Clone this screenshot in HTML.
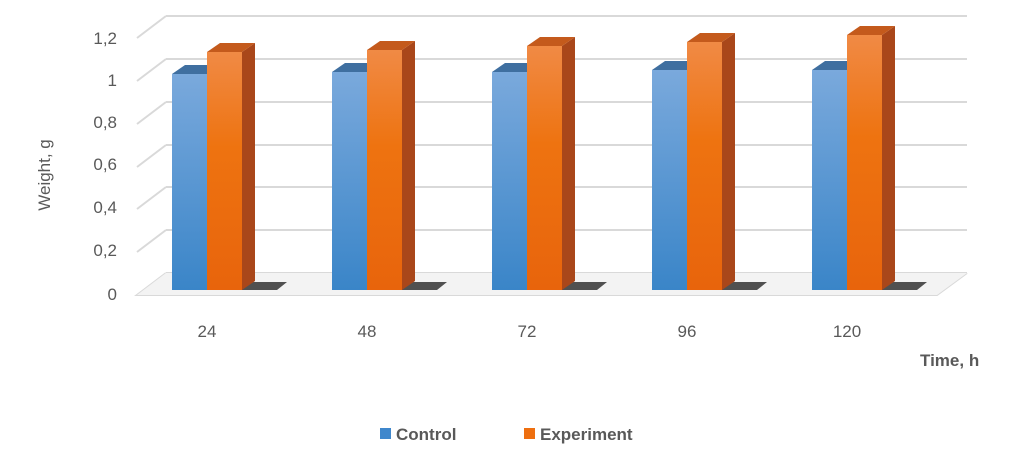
<!DOCTYPE html>
<html><head><meta charset="utf-8"><style>
body{margin:0;background:#fff}
svg{display:block;font-family:"Liberation Sans",sans-serif}
</style></head><body>
<svg width="1023" height="453" viewBox="0 0 1023 453">
<defs>
<linearGradient id="gb" x1="0" y1="0" x2="0" y2="1"><stop offset="0" stop-color="#7aa9dc"/><stop offset="1" stop-color="#3a85c8"/></linearGradient>
<linearGradient id="go" x1="0" y1="0" x2="0" y2="1"><stop offset="0" stop-color="#f08a45"/><stop offset="0.4" stop-color="#ee7310"/><stop offset="1" stop-color="#e8640c"/></linearGradient>
</defs>
<g stroke="#d9d9d9" stroke-width="2" fill="none">
<path d="M166 16H967M166 59H967M166 102H967M166 145H967M166 187H967M166 230H967M166 273H967"/>
<path d="M166 16L137 38M166 59L137 81M166 102L137 124M166 145L137 167M166 187L137 209M166 230L137 252M166 273L137 295H937L967 273"/>
</g>
<polygon points="166,273 967,273 937,295 137,295" fill="#f3f3f3"/>
<g fill="#595959" font-size="17" text-anchor="end">
<text x="117" y="44">1,2</text><text x="117" y="86">1</text><text x="117" y="128">0,8</text><text x="117" y="170">0,6</text><text x="117" y="213">0,4</text><text x="117" y="256">0,2</text><text x="117" y="300">0</text>
</g>
<text transform="translate(50,175) rotate(-90)" text-anchor="middle" fill="#595959" font-size="17">Weight, g</text>

<g transform="translate(207,0)">
<polygon points="14,282 80,282 70,290 4,290" fill="#333" opacity="0.85"/>
<polygon points="-35,74 -22,65 13,65 0,74" fill="#3f6fa0"/>
<rect x="-35" y="74" width="35" height="216" fill="url(#gb)"/>
<polygon points="35,52 48,43 48,281 35,290" fill="#a9471a"/>
<polygon points="0,52 13,43 48,43 35,52" fill="#c45a1c"/>
<rect x="0" y="52" width="35" height="238" fill="url(#go)"/>
</g>
<g transform="translate(367,0)">
<polygon points="14,282 80,282 70,290 4,290" fill="#333" opacity="0.85"/>
<polygon points="-35,72 -22,63 13,63 0,72" fill="#3f6fa0"/>
<rect x="-35" y="72" width="35" height="218" fill="url(#gb)"/>
<polygon points="35,50 48,41 48,281 35,290" fill="#a9471a"/>
<polygon points="0,50 13,41 48,41 35,50" fill="#c45a1c"/>
<rect x="0" y="50" width="35" height="240" fill="url(#go)"/>
</g>
<g transform="translate(527,0)">
<polygon points="14,282 80,282 70,290 4,290" fill="#333" opacity="0.85"/>
<polygon points="-35,72 -22,63 13,63 0,72" fill="#3f6fa0"/>
<rect x="-35" y="72" width="35" height="218" fill="url(#gb)"/>
<polygon points="35,46 48,37 48,281 35,290" fill="#a9471a"/>
<polygon points="0,46 13,37 48,37 35,46" fill="#c45a1c"/>
<rect x="0" y="46" width="35" height="244" fill="url(#go)"/>
</g>
<g transform="translate(687,0)">
<polygon points="14,282 80,282 70,290 4,290" fill="#333" opacity="0.85"/>
<polygon points="-35,70 -22,61 13,61 0,70" fill="#3f6fa0"/>
<rect x="-35" y="70" width="35" height="220" fill="url(#gb)"/>
<polygon points="35,42 48,33 48,281 35,290" fill="#a9471a"/>
<polygon points="0,42 13,33 48,33 35,42" fill="#c45a1c"/>
<rect x="0" y="42" width="35" height="248" fill="url(#go)"/>
</g>
<g transform="translate(847,0)">
<polygon points="14,282 80,282 70,290 4,290" fill="#333" opacity="0.85"/>
<polygon points="-35,70 -22,61 13,61 0,70" fill="#3f6fa0"/>
<rect x="-35" y="70" width="35" height="220" fill="url(#gb)"/>
<polygon points="35,35 48,26 48,281 35,290" fill="#a9471a"/>
<polygon points="0,35 13,26 48,26 35,35" fill="#c45a1c"/>
<rect x="0" y="35" width="35" height="255" fill="url(#go)"/>
</g>

<g fill="#595959" font-size="17" text-anchor="middle">
<text x="207" y="337">24</text><text x="367" y="337">48</text><text x="527" y="337">72</text><text x="687" y="337">96</text><text x="847" y="337">120</text>
</g>
<text x="920" y="366" fill="#595959" font-size="17" font-weight="bold">Time, h</text>
<rect x="380" y="428" width="11" height="11" fill="#3f87cc"/>
<text x="396" y="440" fill="#595959" font-size="17" font-weight="bold">Control</text>
<rect x="524" y="428" width="11" height="11" fill="#ee6f10"/>
<text x="540" y="440" fill="#595959" font-size="17" font-weight="bold">Experiment</text>
</svg>
</body></html>
